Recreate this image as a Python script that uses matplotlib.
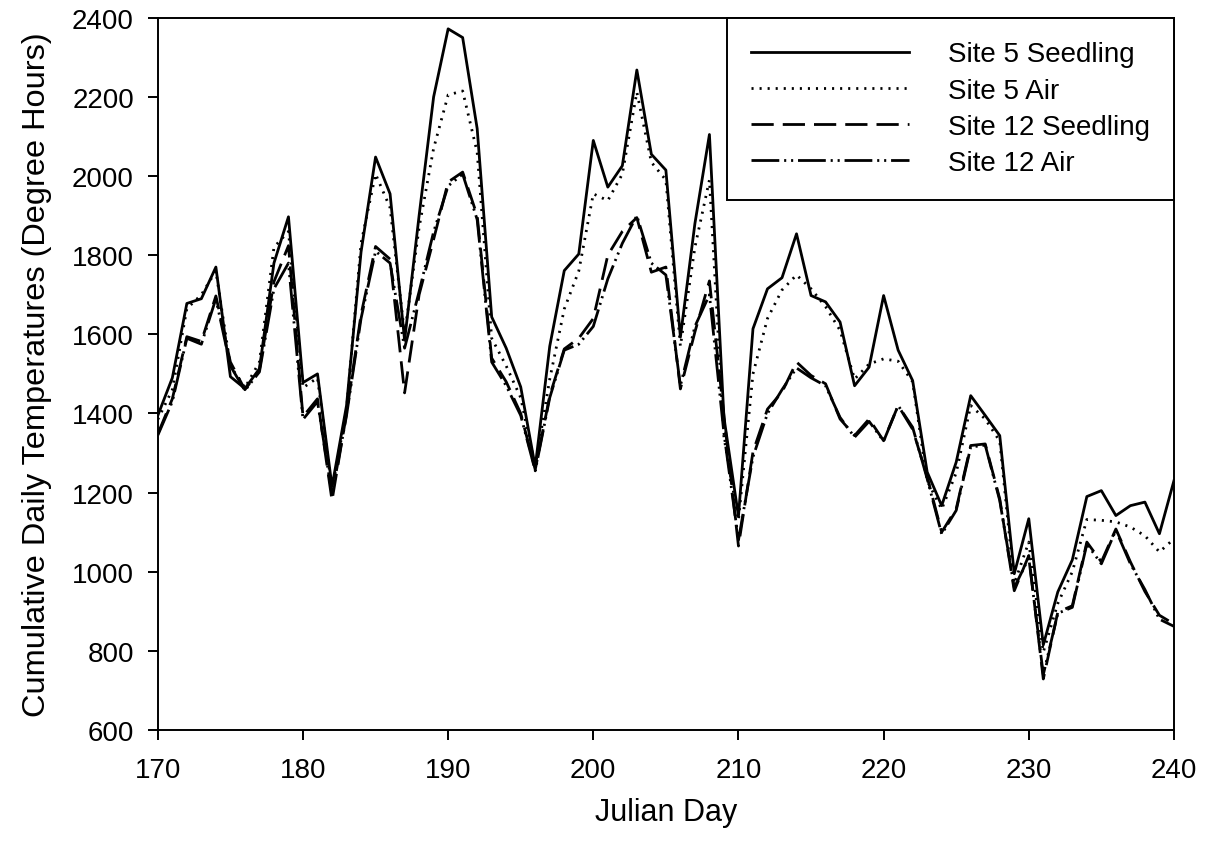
import matplotlib
matplotlib.use("Agg")
import matplotlib.pyplot as plt
import numpy as np

plt.rcParams['font.family'] = ['Liberation Sans', 'DejaVu Sans']
plt.rcParams['lines.scale_dashes'] = False

days = list(range(170, 241))

site5_seedling = [
    1395, 1490, 1678, 1690, 1770, 1493, 1463, 1513, 1780, 1897,
    1478, 1500, 1215, 1420, 1808, 2048, 1955, 1585, 1900, 2200,
    2372, 2350, 2120, 1644, 1565, 1467, 1265, 1570, 1761, 1803,
    2090, 1972, 2026, 2268, 2055, 2015, 1593, 1880, 2105, 1390,
    1140, 1614, 1715, 1743, 1854, 1698, 1682, 1631, 1470, 1517,
    1698, 1560, 1483, 1252, 1167, 1277, 1445, 1395, 1344, 995,
    1134, 815, 949, 1030, 1190, 1205, 1142, 1167, 1176, 1096,
    1230,
]

site5_air = [
    1385, 1460, 1665, 1700, 1760, 1520, 1465, 1530, 1820, 1860,
    1465, 1490, 1205, 1410, 1830, 2005, 1920, 1600, 1870, 2070,
    2205, 2215, 2060, 1590, 1520, 1440, 1265, 1487, 1664, 1760,
    1955, 1938, 2005, 2212, 2035, 1990, 1570, 1820, 1990, 1340,
    1130, 1500, 1640, 1712, 1750, 1715, 1670, 1610, 1487, 1525,
    1538, 1532, 1480, 1230, 1158, 1250, 1420, 1386, 1330, 970,
    1075, 797, 920, 1000, 1132, 1130, 1126, 1113, 1091, 1050,
    1083,
]

site12_seedling = [
    1348, 1437, 1594, 1582, 1697, 1530, 1460, 1510, 1733, 1824,
    1392, 1437, 1180, 1400, 1650, 1822, 1790, 1452, 1700, 1840,
    1985, 2010, 1900, 1540, 1480, 1400, 1258, 1445, 1563, 1590,
    1640, 1800, 1860, 1895, 1757, 1770, 1462, 1606, 1735, 1394,
    1065, 1303, 1411, 1454, 1530, 1496, 1475, 1386, 1344, 1386,
    1331, 1420, 1360, 1240, 1100, 1159, 1319, 1323, 1184, 952,
    1041, 729, 898, 914, 1075, 1025, 1108, 1025, 950, 890,
    868,
]

site12_air = [
    1345, 1430, 1590, 1575, 1690, 1520, 1458, 1505, 1715, 1780,
    1385, 1430, 1195, 1395, 1640, 1810, 1780, 1565, 1708, 1859,
    1975, 2005, 1890, 1530, 1470, 1395, 1255, 1440, 1560, 1575,
    1620, 1740, 1830, 1900, 1780, 1750, 1470, 1620, 1700, 1350,
    1080, 1290, 1400, 1460, 1515, 1490, 1470, 1390, 1340, 1380,
    1330, 1420, 1365, 1235, 1095, 1155, 1315, 1320, 1180, 960,
    1035, 740, 895, 910, 1070, 1020, 1105, 1020, 955, 880,
    862,
]

series_labels = ["Site 5 Seedling", "Site 5 Air", "Site 12 Seedling", "Site 12 Air"]
x_ticks = [170, 180, 190, 200, 210, 220, 230, 240]
y_ticks = [600, 800, 1000, 1200, 1400, 1600, 1800, 2000, 2200, 2400]

fig = plt.figure(figsize=(12.14, 8.53), dpi=100)
ax = fig.add_axes([0.130, 0.143, 0.837, 0.835])

lw = 2.0
ax.plot(days, site5_seedling, color='black', lw=lw, linestyle='-', label=series_labels[0])
ax.plot(days, site5_air, color='black', lw=lw, linestyle=(0, (1.5, 4.3)), label=series_labels[1])
ax.plot(days, site12_seedling, color='black', lw=lw, linestyle=(0, (16, 6.5)), label=series_labels[2])
ax.plot(days, site12_air, color='black', lw=lw,
        linestyle=(0, (20, 3.5, 1.5, 3.5, 1.5, 3.5)), label=series_labels[3])

ax.set_xlim(170, 240)
ax.set_ylim(600, 2400)
ax.set_xticks(x_ticks)
ax.set_yticks(y_ticks)
ax.tick_params(direction='out', length=7.2, width=1.4, labelsize=20, colors='black')
ax.tick_params(axis='x', pad=12)
ax.tick_params(axis='y', pad=10)
for s in ax.spines.values():
    s.set_linewidth(1.4)

ax.set_xlabel("Julian Day", fontsize=22, labelpad=10)
ax.set_ylabel("Cumulative Daily Temperatures (Degree Hours)", fontsize=23.4, labelpad=14)

leg = ax.legend(loc='upper right', borderaxespad=0, fontsize=20, handlelength=5.7,
                handletextpad=1.4, labelspacing=0.37, fancybox=False, framealpha=1,
                edgecolor='black', borderpad=0.85)
leg.get_frame().set_linewidth(1.4)

fig.savefig("out.png", dpi=100)
